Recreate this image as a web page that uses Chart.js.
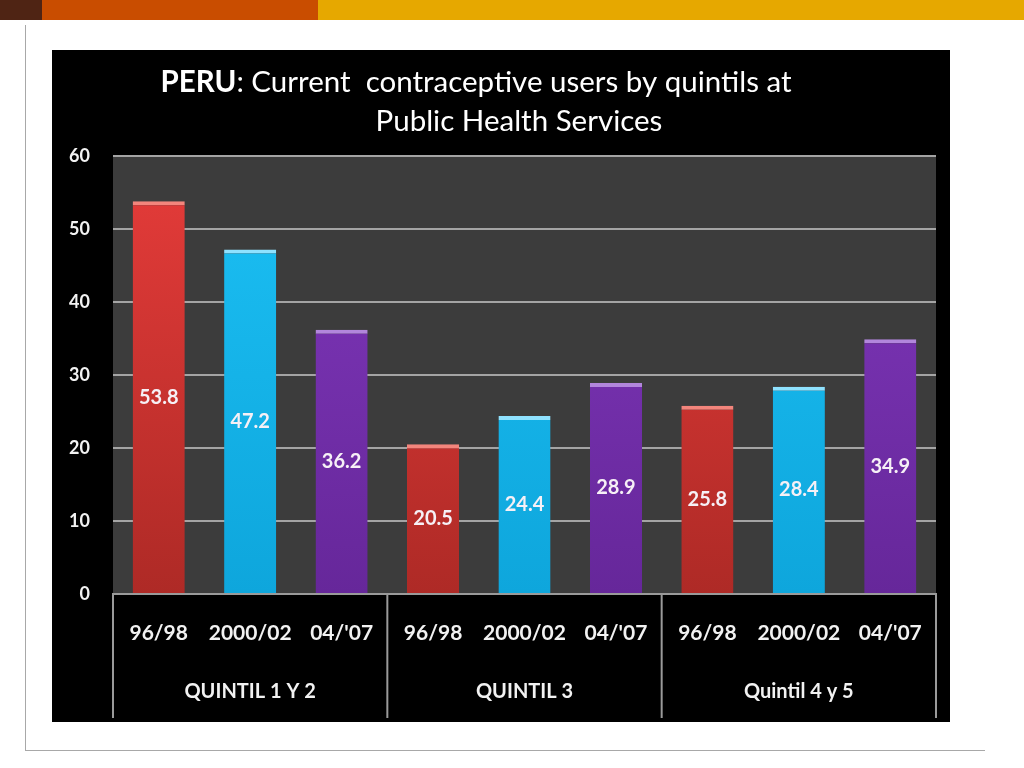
<!DOCTYPE html>
<html>
<head>
<meta charset="utf-8">
<script src="https://cdn.jsdelivr.net/npm/chart.js@4"></script>
<style>
  body { margin: 0; background: #fff; width: 1024px; height: 768px; position: relative; overflow: hidden; }
  .bar { position: absolute; top: 0; height: 20px; }
  #frame-v { position: absolute; left: 25px; top: 25px; width: 1px; height: 726px; background: #a8a8a8; }
  #frame-h { position: absolute; left: 25px; top: 750px; width: 960px; height: 1px; background: #a8a8a8; }
  #box { position: absolute; left: 52px; top: 50px; width: 898px; height: 672px; background: #000; }
</style>
</head>
<body>
<div class="bar" style="left:0;width:42px;background:#4f2414"></div>
<div class="bar" style="left:42px;width:276px;background:#c94d00"></div>
<div class="bar" style="left:318px;width:706px;background:#e6a800"></div>
<div id="frame-v"></div>
<div id="frame-h"></div>
<div id="box"><canvas id="chart" width="898" height="672"></canvas></div>
<script>
// data
const groups = ['QUINTIL 1 Y 2', 'QUINTIL 3', 'Quintil 4 y 5'];
const periods = ['96/98', '2000/02', "04/'07"];
const users9698 = [53.8, 20.5, 25.8];
const users0002 = [47.2, 24.4, 28.4];
const users0407 = [36.2, 28.9, 34.9];
const yTicks = [0, 10, 20, 30, 40, 50, 60];

const bySeries = [users9698, users0002, users0407];
const labels = [];
const values = [];
groups.forEach((g, gi) => {
    periods.forEach((p, pi) => {
        labels.push(p);
        values.push(bySeries[pi][gi]);
    });
});

const fills = [['#e63c3a', '#ae2a26'], ['#1cc0f4', '#0ea6dc'], ['#8038bc', '#66279a']];
const tops = ['#f3857c', '#8fe2ff', '#b286dc'];

function barFill(ctx) {
    const area = ctx.chart.chartArea;
    const c = fills[ctx.dataIndex % 3];
    if (!area) return c[0];
    const g = ctx.chart.ctx.createLinearGradient(0, area.top, 0, area.bottom);
    g.addColorStop(0, c[0]);
    g.addColorStop(1, c[1]);
    return g;
}

const font = 'Lato, "Open Sans", sans-serif';

const slidePlugin = {
    id: 'slide',
    beforeDraw(chart) {
        const { ctx, chartArea: a } = chart;
        ctx.save();
        ctx.fillStyle = '#3c3c3c';
        ctx.fillRect(a.left, a.top, a.right - a.left, a.bottom - a.top);
        ctx.restore();
    },
    afterDraw(chart) {
        const { ctx, chartArea: a } = chart;
        const x = chart.scales.x;
        ctx.save();
        // title
        ctx.fillStyle = '#fff';
        ctx.textBaseline = 'middle';
        ctx.textAlign = 'left';
        const t1b = 'PERU';
        const t1 = ': Current  contraceptive users by quintils at';
        ctx.font = 'bold 29.5px ' + font;
        const wb = ctx.measureText(t1b).width;
        ctx.font = '29.5px ' + font;
        const wr = ctx.measureText(t1).width;
        let sx = 424 - (wb + wr) / 2;
        ctx.font = 'bold 29.5px ' + font;
        ctx.fillText(t1b, sx, 32);
        ctx.font = '29.5px ' + font;
        ctx.fillText(t1, sx + wb, 32);
        ctx.textAlign = 'center';
        ctx.fillText('Public Health Services', 467, 71);

        // group separators and labels
        const step = x.getPixelForValue(1) - x.getPixelForValue(0);
        ctx.strokeStyle = '#9a9a9a';
        ctx.lineWidth = 2;
        for (let i = 0; i <= groups.length; i++) {
            const px = i === groups.length ? a.right : x.getPixelForValue(i * 3) - step / 2;
            ctx.beginPath();
            ctx.moveTo(px, a.bottom);
            ctx.lineTo(px, 668);
            ctx.stroke();
        }
        ctx.font = 'bold 20px ' + font;
        ctx.fillStyle = '#f2f2f2';
        groups.forEach((g, gi) => {
            ctx.fillText(g, x.getPixelForValue(gi * 3 + 1), 642);
        });
        ctx.restore();
    },
    afterDatasetsDraw(chart) {
        const { ctx } = chart;
        const meta = chart.getDatasetMeta(0);
        ctx.save();
        ctx.font = 'bold 20px ' + font;
        ctx.fillStyle = '#f6f0f6';
        ctx.textAlign = 'center';
        ctx.textBaseline = 'middle';
        meta.data.forEach((bar, i) => {
            ctx.fillText(values[i].toFixed(1), bar.x, (bar.y + bar.base) / 2);
        });
        ctx.restore();
    }
};

new Chart(document.getElementById('chart'), {
    type: 'bar',
    data: {
        labels: labels,
        datasets: [{
            data: values,
            backgroundColor: barFill,
            borderColor: ctx => tops[ctx.dataIndex % 3],
            borderWidth: { top: 4, left: 0, right: 0, bottom: 0 },
            borderSkipped: 'bottom',
            barPercentage: 0.57,
            categoryPercentage: 1
        }]
    },
    options: {
        responsive: false,
        animation: false,
        layout: { padding: { left: 0, right: 14, top: 106, bottom: 4 } },
        plugins: { legend: { display: false }, tooltip: { enabled: false } },
        scales: {
            x: {
                grid: { drawOnChartArea: false, drawTicks: false },
                border: { color: '#9a9a9a', width: 2 },
                ticks: { color: '#f2f2f2', font: { family: font, size: 21, weight: 'bold' }, padding: 27, maxRotation: 0 },
                afterFit: s => { s.height = 124; }
            },
            y: {
                min: 0,
                max: 60,
                afterBuildTicks: s => { s.ticks = yTicks.map(v => ({ value: v })); },
                grid: { color: '#a4a4a4', lineWidth: 2, drawTicks: false },
                border: { display: false },
                ticks: { color: '#f2f2f2', font: { family: font, size: 18, weight: 'bold' }, padding: 23 },
                afterFit: s => { s.width = 61; }
            }
        }
    },
    plugins: [slidePlugin]
});
</script>
</body>
</html>
